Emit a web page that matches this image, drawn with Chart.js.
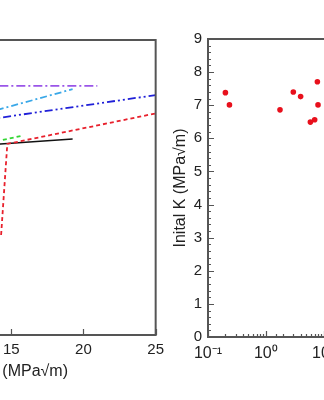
<!DOCTYPE html>
<html>
<head>
<meta charset="utf-8">
<script src="https://cdn.jsdelivr.net/npm/chart.js@4"></script>
<style>
  html, body { margin: 0; padding: 0; background: #fff; }
  body { width: 324px; height: 400px; overflow: hidden; position: relative; font-family: "Liberation Sans", Arial, sans-serif; }
  canvas { position: absolute; top: 0; }
  #left { left: -120px; }
  #right { left: 160px; }
  #leftTitle { position: absolute; right: 256px; top: 362px; font-size: 16px; color: #222; white-space: nowrap; }
</style>
</head>
<body>
<canvas id="left" width="290" height="400"></canvas>
<canvas id="right" width="240" height="400"></canvas>
<div id="leftTitle">K (MPa√m)</div>
<script>
// left panel: curves (x in MPa√m)
const purpleX = [13, 20.96];
const purpleY = [7.6, 7.6];
const skyX = [13, 19.25];
const skyY = [6.74, 7.5];
const blueX = [13, 25];
const blueY = [6.55, 7.32];
const redX = [14.3, 14.73, 25];
const redY = [3.05, 5.83, 6.76];
const greenX = [13, 15.68];
const greenY = [5.82, 6.07];
const blackX = [13, 19.25];
const blackY = [5.79, 5.98];
const leftTicks = [10, 15, 20, 25];

// right panel: scatter, log x
const rateX = [0.2, 0.235, 1.76, 2.99, 4.0, 5.9, 7.0, 7.8, 8.0];
const initK = [7.38, 7.01, 6.86, 7.4, 7.26, 6.49, 6.56, 7.71, 7.01];
const yTicks = [0, 1, 2, 3, 4, 5, 6, 7, 8, 9];

const FONT = { family: '"Liberation Sans", Arial, sans-serif', size: 15 };
const AXIS = '#555';

function pts(xs, ys) {
  return xs.map((x, i) => ({ x, y: ys[i] }));
}

function boxTicks(isMajorX, isMajorY, minorX, minorY) {
  return {
    id: 'boxTicks',
    afterDraw(chart) {
      const { ctx, chartArea: a } = chart;
      const xs = chart.scales.x, ys = chart.scales.y;
      ctx.save();
      ctx.strokeStyle = AXIS;
      ctx.lineWidth = 1.2;
      ctx.beginPath();
      xs.ticks.forEach(t => {
        const major = isMajorX(t.value);
        if (!major && !minorX) return;
        const px = Math.round(xs.getPixelForValue(t.value)) + 0.5;
        ctx.moveTo(px, a.bottom);
        ctx.lineTo(px, a.bottom - (major ? 6 : 3));
      });
      ys.ticks.forEach(t => {
        const major = isMajorY(t.value);
        if (!major && !minorY) return;
        const py = Math.round(ys.getPixelForValue(t.value)) + 0.5;
        ctx.moveTo(a.left, py);
        ctx.lineTo(a.left + (major ? 6 : 3), py);
      });
      ctx.stroke();
      ctx.lineWidth = 2;
      ctx.strokeRect(a.left, a.top, a.right - a.left, a.bottom - a.top);
      ctx.restore();
    }
  };
}

const isInt = v => Math.abs(v - Math.round(v)) < 1e-6;
const isPow10 = v => isInt(Math.log10(v));

function line(label, xs, ys, color, dash, width) {
  return {
    label, data: pts(xs, ys), borderColor: color, borderDash: dash,
    borderWidth: width || 1.8, pointRadius: 0, tension: 0, fill: false
  };
}

new Chart(document.getElementById('left'), {
  type: 'line',
  data: {
    datasets: [
      line('purple', purpleX, purpleY, '#9a55e8', [9, 3, 2, 3]),
      line('sky', skyX, skyY, '#3aa8e8', [7, 3, 2, 3]),
      line('blue', blueX, blueY, '#2020d8', [8, 3, 2, 3, 2, 3]),
      line('red', redX, redY, '#e8202c', [4, 3]),
      line('green', greenX, greenY, '#33d633', [4, 3]),
      line('black', blackX, blackY, '#111', [], 1.5)
    ]
  },
  options: {
    responsive: false,
    animation: false,
    layout: { padding: { top: 40, right: 12 } },
    plugins: { legend: { display: false }, tooltip: { enabled: false } },
    scales: {
      x: {
        type: 'linear', min: 10, max: 25,
        afterBuildTicks: s => { s.ticks = leftTicks.map(v => ({ value: v })); },
        afterFit: s => { s.height = 65; },
        grid: { display: false, drawTicks: false },
        border: { display: false },
        ticks: { font: FONT, color: '#222', padding: 6, maxRotation: 0 }
      },
      y: {
        min: 0, max: 9,
        afterFit: s => { s.width = 59; },
        grid: { display: false, drawTicks: false },
        border: { display: false },
        ticks: { display: false }
      }
    }
  },
  plugins: [boxTicks(v => true, v => true, false, false)]
});

new Chart(document.getElementById('right'), {
  type: 'scatter',
  data: {
    datasets: [{
      data: pts(rateX, initK),
      backgroundColor: '#e8101c', borderColor: '#e8101c',
      pointRadius: 2.8, borderWidth: 0
    }]
  },
  options: {
    responsive: false,
    animation: false,
    layout: { padding: { top: 39, right: 9 } },
    plugins: { legend: { display: false }, tooltip: { enabled: false } },
    scales: {
      x: {
        type: 'logarithmic', min: 0.1, max: 100,
        afterFit: s => { s.height = 63; },
        grid: { display: false, drawTicks: false },
        border: { display: false },
        ticks: {
          font: { family: FONT.family, size: 16 }, color: '#222', padding: 7, maxRotation: 0, autoSkip: false,
          callback: v => {
            if (!isPow10(v)) return '';
            const e = Math.round(Math.log10(v));
            return '10' + (e < 0 ? '⁻¹' : e === 0 ? '⁰' : e === 1 ? '¹' : '²');
          }
        }
      },
      y: {
        min: 0, max: 9,
        afterFit: s => { s.width = 48; },
        grid: { display: false, drawTicks: false },
        border: { display: false },
        title: { display: true, text: 'Inital K (MPa√m)', font: { family: FONT.family, size: 16 }, color: '#222', padding: { top: 11, bottom: 0 } },
        ticks: {
          stepSize: 0.2, autoSkip: false, font: FONT, color: '#222', padding: 6,
          callback: v => yTicks.includes(Math.round(v)) && isInt(v) ? String(Math.round(v)) : ''
        }
      }
    }
  },
  plugins: [boxTicks(isPow10, isInt, true, true)]
});
</script>
</body>
</html>
